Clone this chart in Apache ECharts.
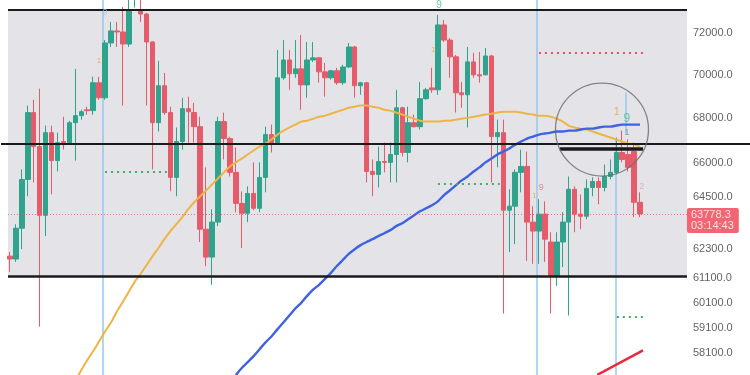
<!DOCTYPE html>
<html><head><meta charset="utf-8">
<script src="https://cdn.jsdelivr.net/npm/echarts@6/dist/echarts.min.js"></script>
<style>html,body{margin:0;padding:0;background:#fff}#c{width:750px;height:375px}</style>
</head><body><div id="c"></div>
<script>
// ---- data (prices, log price axis) ----
const opens = [62000,61880,63170,65270,68260,66720,63720,67350,66100,66950,
66900,67800,68120,68390,68350,69640,68940,71520,72100,72050,
71470,73700,73070,72920,71570,67800,69500,68260,65360,66950,
68440,68260,67620,63130,61960,63430,67850,67080,65580,64230,
63810,64660,64020,65360,67260,66900,69870,70710,70060,70290,
69540,70710,70810,70150,69870,70200,69640,70380,71330,69500,
69640,65620,65490,66060,66020,66370,68480,66460,67800,67620,
68900,69400,69310,72390,71660,70860,69170,69080,70620,70010,
70010,70900,67170,67350,63940,64110,65580,65840,63430,63050,
63770,62590,61180,62590,63430,64840,63770,63680,64920,65180,
64920,65400,65580,66460,66370,66500,64280];
const closes = [61880,63170,65270,68260,66720,63720,67350,66100,66900,66810,
67800,68120,68300,68350,69640,68940,71520,72100,72050,71470,
73120,74100,72920,71570,67800,69500,68260,65360,66950,68440,
68300,67620,63130,61960,63430,67850,67080,65580,64230,63810,
64660,64020,65360,67260,66900,69870,70710,70060,70290,69540,
70710,70810,70150,69870,70200,69640,70380,71330,69500,69640,
65620,65490,66060,66020,66370,68480,66460,67800,67620,68900,
69310,69310,72390,71660,70860,69170,69080,70620,70010,69960,
70900,67170,67350,63940,64110,65580,65840,63430,63050,63770,
62710,61180,62590,63430,64840,63770,63680,64880,65180,64920,
65400,65580,66460,66150,65800,64280,63778.3];
const lows = [61350,61760,62290,64540,65140,59140,62840,64620,65620,66590,
66860,66100,67940,68160,68160,68850,68850,71330,71330,68580,
71330,73240,72530,68580,65710,67400,68160,64750,64540,66590,
66900,66900,62590,61590,60820,63260,66150,65400,63850,62340,
63430,63940,63850,64710,66460,66860,69780,69310,69870,68390,
68940,70620,69640,68990,69780,69540,69540,70340,68940,69080,
65140,64540,64920,65580,65140,65140,66280,66020,67580,67490,
68850,69170,69080,71570,69870,68260,68480,67580,69870,69640,
69990,65140,65800,59660,62170,62500,64710,61800,61680,61680,
61760,59660,60780,61550,59580,63000,63130,63550,64540,64190,
64750,65270,65490,66020,65620,63640,63640];
const highs = [62170,63340,65710,68580,68850,69360,67670,67670,67350,68070,
67890,70290,68390,68530,69920,69920,71660,72530,72530,73270,
73800,74400,73700,72970,71600,70670,70100,68530,67580,68940,
68990,68710,68070,65800,63980,68070,68260,67170,66680,64750,
64970,66020,66020,67620,67710,71190,71660,71190,71660,71900,
71570,71570,70860,70570,70240,70340,70480,71520,71380,69680,
69680,66150,66720,66900,66900,69310,68530,68530,68170,69680,
69400,70340,72880,72630,71760,70950,69680,71330,71050,71090,
71280,70950,67940,67940,64840,65710,66590,66500,64110,64410,
64320,63000,63000,63850,65400,64970,64620,65270,65360,65360,
65930,66150,67130,67440,67040,66900,64710];

const maOrangeStart = 11;
const maOrange = [57020,57440,57820,58170,58560,58950,59300,59740,60130,60540,
60940,61270,61630,62000,62340,62710,63050,63340,63640,63980,
64280,64540,64790,65050,65310,65580,65840,66020,66190,66370,
66550,66720,66860,67040,67260,67440,67580,67710,67850,67890,
67980,68070,68120,68210,68300,68390,68480,68530,68580,68580,
68530,68480,68390,68350,68260,68170,68070,67980,67890,67850,
67850,67850,67890,67890,67940,67980,68030,68070,68120,68170,
68210,68260,68300,68300,68300,68260,68210,68170,68120,68120,
68070,67980,67850,67670,67580,67530,67490,67400,67310,67220,
67130,67040,66950,66860,66810,66720];
const maBlueStart = 38;
const maBlue = [57250,57520,57750,57980,58250,58520,58750,59030,59300,59580,59860,60090,
60370,60620,60820,61060,61310,61590,61840,62090,62290,62460,
62590,62710,62840,62960,63090,63260,63380,63550,63720,63890,
64020,64150,64320,64580,64790,65010,65230,65400,65620,65800,
66020,66190,66370,66500,66640,66810,66950,67080,67170,67260,
67310,67350,67400,67400,67440,67440,67490,67530,67530,67580,
67620,67620,67670,67710,67710,67710,67710];

const tickValues = [72000,70000,68000,66000,64500,62300,61100,60100,59100,58100,57100];
const lastPrice = 63778.3;
const countdown = '03:14:43';

// horizontal levels
const rangeTop = 73120, rangeMid = 66860, rangeBottom = 61180, zoomBar = 66630;
const greenLevel1 = 65620, greenLevel2 = 65100, redLevel = 71040, greenLevel3 = 59540;
const trendStart = 57262, trendEnd = 58208;

// ---- layout helpers ----
const N = 126;            // category slots (1 lead slot + candles + empty right space)
const lead = 1;
const yMin = 57253, yMax = 73610;
const categories = Array.from({length: N}, (_, i) => String(i));

const candleData = [['-','-','-','-']];
for (let i = 0; i < opens.length; i++) candleData.push([opens[i], closes[i], lows[i], highs[i]]);
function pad(arr, start) {
  const out = [];
  for (let i = 0; i < lead + start; i++) out.push('-');
  return out.concat(arr);
}

const GREEN = '#2FA38C', RED = '#E65B6A';
function seg(v1, p1, v2, p2, style) {
  return [{coord: [v1, p1], lineStyle: style}, {coord: [v2, p2], lineStyle: style}];
}
const blackL = w => ({color: '#1b1b1b', width: w, type: 'solid'});
const dotted = c => ({color: c, width: 2.2, type: [2, 4]});
const vblue = {color: 'rgba(150,200,235,0.75)', width: 2, type: 'solid'};

function txt(v, p, s, color, size) {
  return {value: [v, p], symbolSize: 0,
    label: {show: true, position: 'inside', formatter: s, color: color, fontSize: size, fontFamily: 'Liberation Sans'}};
}

const chart = echarts.init(document.getElementById('c'), null, {renderer: 'canvas'});
chart.setOption({
  animation: false,
  backgroundColor: '#ffffff',
  grid: {left: 1, right: 0, top: 0, bottom: 0},
  xAxis: [
    {type: 'category', data: categories, boundaryGap: true, show: false},
    {type: 'value', min: -0.5, max: N - 0.5, show: false}
  ],
  yAxis: {type: 'log', min: yMin, max: yMax, show: false},
  series: [
    { // range box background
      type: 'scatter', xAxisIndex: 1, data: [], silent: true,
      markArea: {silent: true, itemStyle: {color: '#E4E4E8'},
        data: [[{coord: [0.68, rangeBottom]}, {coord: [114.9, rangeTop]}]]}
    },
    { // vertical time lines (behind candles)
      type: 'scatter', xAxisIndex: 1, data: [], silent: true, z: 1,
      markLine: {silent: true, symbol: ['none', 'none'], label: {show: false}, z: 1,
        data: [
          seg(16.66, yMin, 16.66, yMax, vblue),
          seg(89.68, yMin, 89.68, yMax, vblue),
          seg(102.96, yMin, 102.96, 67080, vblue),
          seg(104.65, 67260, 104.65, 69170, vblue)
        ]}
    },
    {
      type: 'candlestick', data: candleData, barWidth: 5, clip: true,
      itemStyle: {color: GREEN, color0: RED, borderColor: GREEN, borderColor0: RED, borderWidth: 1}
    },
    {
      type: 'line', data: pad(maOrange, maOrangeStart), showSymbol: false, symbol: 'none', smooth: 0.3, z: 3,
      lineStyle: {color: '#EDB545', width: 2}
    },
    {
      type: 'line', data: pad(maBlue, maBlueStart), showSymbol: false, symbol: 'none', smooth: 0.3, z: 3,
      lineStyle: {color: '#3E62E0', width: 2.4}
    },
    { // levels and drawings
      type: 'scatter', xAxisIndex: 1, data: [], silent: true, z: 5,
      markLine: {silent: true, symbol: ['none', 'none'], label: {show: false},
        data: [
          seg(0.68, lastPrice, 114.9, lastPrice, {color: 'rgba(225,90,105,0.8)', width: 1, type: [1, 2]}),
          seg(0.68, rangeTop, 114.9, rangeTop, blackL(2)),
          {yAxis: rangeMid, lineStyle: blackL(2)},
          seg(0.68, rangeBottom, 114.9, rangeBottom, blackL(2.5)),
          seg(93.5, zoomBar, 107.5, zoomBar, blackL(3.5)),
          seg(17.0, greenLevel1, 27.4, greenLevel1, dotted('#3FAE6A')),
          seg(73.0, greenLevel2, 83.4, greenLevel2, dotted('#3FAE6A')),
          seg(90.0, redLevel, 107.7, redLevel, dotted('#F05060')),
          seg(103.1, greenLevel3, 107.5, greenLevel3, dotted('#3FAE6A')),
          seg(99.83, trendStart, 107.5, trendEnd, {color: '#E8283C', width: 2.5, type: 'solid'})
        ]}
    },
    { // magnifier circle + markers
      type: 'scatter', xAxisIndex: 1, silent: true, z: 6,
      data: [
        {value: [100.6, 67490], symbol: 'circle', symbolSize: 93,
          itemStyle: {color: 'rgba(0,0,0,0)', borderColor: '#6a6a6a', borderWidth: 1.3}},
        txt(73.2, 73365, '9', '#4BB98F', 10),
        txt(17.0, 72973, '9', '#A9C4D6', 9),
        txt(16.0, 70670, '1', '#F0A030', 8),
        txt(72.2, 71190, '1', '#F0A030', 8),
        txt(89.2, 64540, '1', '#F0A030', 8),
        txt(90.4, 64924, '9', '#E8707C', 9),
        txt(103.1, 68260, '1', '#F0A030', 10),
        txt(104.8, 67983, '9', '#4BB98F', 12),
        txt(104.8, 67350, '1', '#8a8a8a', 9),
        txt(107.3, 64970, '2', '#E8A0A8', 9)
      ]
    },
    { // price scale labels
      type: 'scatter', xAxisIndex: 1, silent: true, z: 7, symbolSize: 0,
      data: tickValues.map(v => ({value: [115.9, v]})),
      label: {show: true, position: 'right', distance: 0, color: '#3a3a3a', fontSize: 11,
        fontFamily: 'Liberation Sans', formatter: p => p.value[1].toFixed(1)}
    },
    { // last price box
      type: 'scatter', xAxisIndex: 1, silent: true, z: 8, symbolSize: 0,
      data: [{value: [114.9, lastPrice]}],
      label: {show: true, position: [0, -6], backgroundColor: '#F03E50', color: '#fff', fontSize: 11,
        lineHeight: 11.5, padding: [1, 5, 1, 4], borderRadius: 2, fontFamily: 'Liberation Sans',
        formatter: () => lastPrice.toFixed(1) + '\n' + countdown}
    }
  ]
});
</script></body></html>
